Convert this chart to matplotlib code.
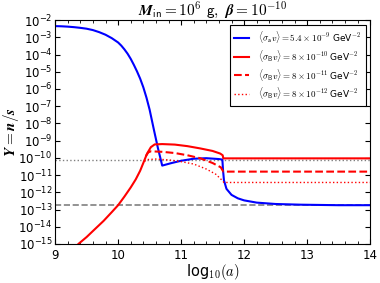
import numpy as np
from matplotlib import pyplot as plt

# log10(a) and log10(Y)
blue_x = [9.0, 9.1, 9.2, 9.3, 9.4, 9.5, 9.6, 9.7, 9.8, 9.9, 10.0, 10.05, 10.1, 10.15, 10.2,
          10.25, 10.3, 10.35, 10.4, 10.45, 10.5, 10.57, 10.63, 10.7, 10.85, 11.0, 11.2, 11.4,
          11.6, 11.655, 11.665, 11.68, 11.72, 11.8, 11.9, 12.0, 12.2, 12.5, 12.9, 13.5, 14.0]
blue_y = [-2.35, -2.36, -2.38, -2.41, -2.45, -2.5, -2.58, -2.7, -2.85, -3.05, -3.3, -3.48,
          -3.7, -3.95, -4.25, -4.6, -4.98, -5.4, -5.9, -6.5, -7.2, -8.4, -9.4, -10.45, -10.3,
          -10.17, -10.05, -10.02, -10.07, -10.1, -10.7, -11.3, -11.8, -12.15, -12.35, -12.47,
          -12.6, -12.68, -12.72, -12.75, -12.75]

red_x = [9.3, 9.37, 9.5, 9.6, 9.77, 9.9, 10.0, 10.1, 10.2, 10.28, 10.35, 10.4, 10.46, 10.52,
         10.58, 10.7, 10.9, 11.1, 11.3, 11.5, 11.62, 11.66, 11.67, 14.0]
red_y = [-15.3, -15.0, -14.6, -14.25, -13.66, -13.15, -12.75, -12.25, -11.72, -11.25, -10.75,
         -10.3, -9.75, -9.38, -9.22, -9.2, -9.23, -9.32, -9.45, -9.6, -9.75, -9.85, -10.03,
         -10.03]

dash_x = [10.44, 10.48, 10.52, 10.7, 10.9, 11.1, 11.3, 11.5, 11.63, 11.67, 14.0]
dash_y = [-9.9, -9.68, -9.62, -9.65, -9.72, -9.85, -10.02, -10.3, -10.55, -10.8, -10.8]

dot_x = [10.42, 10.46, 10.6, 10.8, 11.0, 11.2, 11.4, 11.55, 11.65, 11.68, 14.0]
dot_y = [-10.2, -10.1, -10.07, -10.12, -10.22, -10.36, -10.65, -10.95, -11.3, -11.43, -11.43]

gray_dotted = -10.12
gray_dashed = -12.76

labels = [
    r"$\langle\sigma_{\mathsf{a}}v\rangle = 5.4\times10^{-9}$ GeV$^{-2}$",
    r"$\langle\sigma_{\mathsf{B}}v\rangle = 8\times10^{-10}$ GeV$^{-2}$",
    r"$\langle\sigma_{\mathsf{B}}v\rangle = 8\times10^{-11}$ GeV$^{-2}$",
    r"$\langle\sigma_{\mathsf{B}}v\rangle = 8\times10^{-12}$ GeV$^{-2}$",
]


def main():
    plt.rcParams["mathtext.fontset"] = "cm"
    fig = plt.figure(figsize=(3.8, 2.83), dpi=100)
    ax = fig.add_axes([0.145, 0.138, 0.829, 0.791])

    ax.axhline(10 ** gray_dotted, color="gray", ls=":", lw=1)
    ax.axhline(10 ** gray_dashed, color="gray", ls="--", lw=1.2)

    ax.plot(blue_x, 10 ** np.array(blue_y), color="blue", lw=1.5, label=labels[0])
    ax.plot(red_x, 10 ** np.array(red_y), color="red", lw=1.5, label=labels[1])
    ax.plot(dash_x, 10 ** np.array(dash_y), color="red", lw=1.5, ls="--", label=labels[2])
    ax.plot(dot_x, 10 ** np.array(dot_y), color="red", lw=1.0, ls=":", label=labels[3])

    ax.set_yscale("log")
    ax.set_xlim(9, 14)
    ax.set_ylim(1e-15, 1e-2)
    ax.set_yticks([10.0 ** k for k in range(-15, -1)])
    ax.set_xticks(range(9, 15))
    ax.set_xticks(np.arange(9, 14.01, 0.2), minor=True)
    ax.tick_params(which="both", direction="in", top=True, right=True, labelsize=8.5)
    ax.tick_params(axis="y", which="major", pad=2)

    ax.set_title(r"$\boldsymbol{M}_{\mathsf{in}}\mathbf{=10^6}$ $\mathsf{g},$ $\boldsymbol{\beta}\mathbf{=10^{-10}}$",
                 fontsize=11, pad=0)
    ax.set_ylabel(r"$\boldsymbol{Y=n/s}$", fontsize=11)
    ax.yaxis.set_label_coords(-0.108, 0.5)
    ax.set_xlabel(r"log$_{\mathsf{10}}(a)$", fontsize=10.5, labelpad=0)

    leg = ax.legend(loc="upper right", fontsize=6.5, fancybox=False, framealpha=1,
                    edgecolor="black", handlelength=1.6, handletextpad=1.0,
                    borderpad=0.5, labelspacing=0.3)
    leg.get_frame().set_linewidth(0.8)

    fig.savefig("out.png", dpi=100)


if __name__ == "__main__":
    main()
